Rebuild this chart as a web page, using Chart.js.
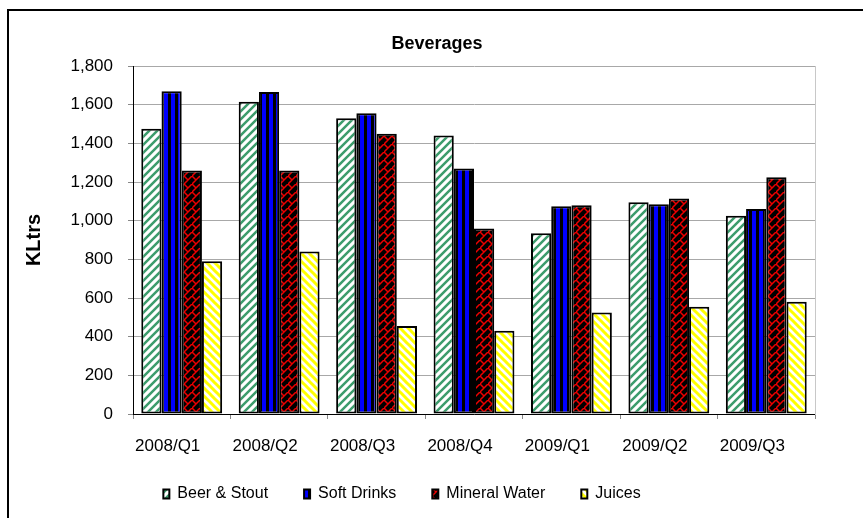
<!DOCTYPE html>
<html lang="en">

<head>
  <meta charset="UTF-8">
  <title>Beverages</title>
  <script src="https://cdn.jsdelivr.net/npm/chart.js"></script>
  <style>
    html, body { margin: 0; padding: 0; background: #fff; overflow: hidden; }
    #frame { position: absolute; left: 7px; top: 9px; width: 900px; height: 600px; border: 2px solid #000; }
    #bevChart { position: absolute; left: 0; top: 0; }
  </style>
</head>

<body>
  <div id="frame"></div>
  <canvas id="bevChart" width="874" height="520"></canvas>

  <script>
    // data (KLtrs)
    const quarters = ['2008/Q1', '2008/Q2', '2008/Q3', '2008/Q4', '2009/Q1', '2009/Q2', '2009/Q3'];
    const beerStout = [1475, 1615, 1530, 1440, 935, 1095, 1025];
    const softDrinks = [1670, 1665, 1555, 1270, 1075, 1085, 1060];
    const mineralWater = [1260, 1260, 1450, 960, 1080, 1115, 1225];
    const juices = [790, 840, 455, 430, 525, 555, 580];

    const ctx = document.getElementById('bevChart').getContext('2d');

    // small tiles for the Excel style hatch fills
    function tile(w, h, bg, draw) {
      const c = document.createElement('canvas');
      c.width = w; c.height = h;
      const g = c.getContext('2d');
      g.fillStyle = bg;
      g.fillRect(0, 0, w, h);
      draw(g);
      return ctx.createPattern(c, 'repeat');
    }

    const greenStripes = tile(8, 8, '#ffffff', g => {
      g.strokeStyle = '#3c9c6c'; g.lineWidth = 2.5;
      g.beginPath();
      g.moveTo(-2, 2); g.lineTo(2, -2);
      g.moveTo(0, 8); g.lineTo(8, 0);
      g.moveTo(6, 10); g.lineTo(10, 6);
      g.stroke();
    });
    const blueBars = tile(7, 4, '#0000ff', g => {
      g.fillStyle = '#000';
      g.fillRect(0, 0, 3, 4);
    });
    const redTrellis = tile(8, 8, '#000000', g => {
      g.strokeStyle = '#ee0000'; g.lineWidth = 1.5;
      g.beginPath();
      g.moveTo(0, 8); g.lineTo(8, 0);
      g.moveTo(0, 0); g.lineTo(4, 4);
      g.stroke();
    });
    const yellowStripes = tile(8, 8, '#ffffff', g => {
      g.strokeStyle = '#ffff00'; g.lineWidth = 3;
      g.beginPath();
      g.moveTo(-2, 6); g.lineTo(2, 10);
      g.moveTo(0, 0); g.lineTo(8, 8);
      g.moveTo(6, -2); g.lineTo(10, 2);
      g.stroke();
    });

    Chart.defaults.font.family = '"Liberation Sans", Arial, sans-serif';
    Chart.defaults.color = '#000';

    // Excel put the legend a bit left of the title centre, and a bit higher
    const legendShift = {
      id: 'legendShift',
      afterLayout(chart) {
        const lg = chart.legend;
        const dx = 402 - (lg.left + lg.right) / 2;
        lg.left += dx;
        lg.right += dx;
        const h = lg.bottom - lg.top;
        lg.top = 450;
        lg.bottom = 450 + h;
      }
    };

    const barStyle = { borderColor: '#000', borderWidth: 2, borderSkipped: false };

    new Chart(ctx, {
      type: 'bar',
      data: {
        labels: quarters,
        datasets: [
          { label: 'Beer & Stout', data: beerStout, backgroundColor: greenStripes, ...barStyle },
          { label: 'Soft Drinks', data: softDrinks, backgroundColor: blueBars, ...barStyle },
          { label: 'Mineral Water', data: mineralWater, backgroundColor: redTrellis, ...barStyle },
          { label: 'Juices', data: juices, backgroundColor: yellowStripes, ...barStyle }
        ]
      },
      options: {
        responsive: false,
        animation: false,
        layout: { padding: { left: 0, right: 0, top: 0, bottom: 0 } },
        datasets: { bar: { categoryPercentage: 0.83, barPercentage: 1 } },
        plugins: {
          title: {
            display: true,
            text: 'Beverages',
            font: { size: 18, weight: 'bold' },
            padding: { top: 33, bottom: 11.4 }
          },
          legend: {
            position: 'bottom',
            labels: { font: { size: 16 }, boxWidth: 6, boxHeight: 9, padding: 36 }
          },
          tooltip: { enabled: false }
        },
        scales: {
          x: {
            grid: { drawOnChartArea: false, drawTicks: true, tickLength: 5, tickColor: '#888' },
            border: { color: '#000', width: 1 },
            ticks: { font: { size: 17 }, padding: 17, labelOffset: -14, maxRotation: 0 },
            afterFit(scale) { scale.height = 44; }
          },
          y: {
            min: 0,
            max: 1800,
            ticks: {
              stepSize: 200,
              font: { size: 17 },
              padding: 15,
              callback: v => v.toLocaleString('en-US')
            },
            grid: { color: '#a8a8a8', tickColor: '#888', tickLength: 5 },
            border: { color: '#000', width: 1 },
            title: {
              display: true,
              text: 'KLtrs',
              font: { size: 20, weight: 'bold' },
              padding: { top: 22, bottom: 0 }
            },
            afterFit(scale) { scale.width = 133; }
          },
          y2: {
            position: 'right',
            grid: { drawOnChartArea: false, drawTicks: false },
            ticks: { display: false },
            border: { color: '#c8c8c8', width: 1 },
            afterFit(scale) { scale.width = 59; }
          }
        }
      },
      plugins: [legendShift]
    });
  </script>

</body>

</html>
